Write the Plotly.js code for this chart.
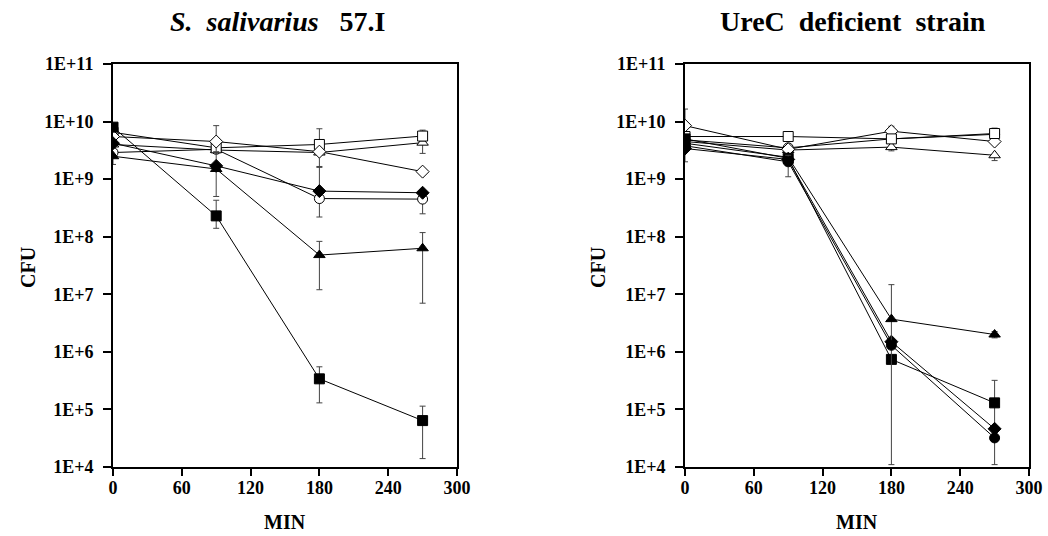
<!DOCTYPE html>
<html><head><meta charset="utf-8">
<script src="https://cdn.plot.ly/plotly-3.0.1.min.js"></script>
<style>html,body{margin:0;padding:0;background:#fff}#chart{width:1048px;height:536px}</style>
</head><body><div id="chart"></div>
<script>
// ---- data ----
const minutes = [0, 90, 180, 270];
const xTickVals = [0, 60, 120, 180, 240, 300];
const yTickVals = [1e4, 1e5, 1e6, 1e7, 1e8, 1e9, 1e10, 1e11];
const yTickText = ['1E+4', '1E+5', '1E+6', '1E+7', '1E+8', '1E+9', '1E+10', '1E+11'];
const titleLeft = '<i>S.  salivarius</i>   57.I';
const titleRight = 'UreC  deficient  strain';

// Left panel: S. salivarius 57.I
const openSquareL     = [6.5e9, 3.5e9, 4.0e9, 5.6e9];
const openSquareLErrP = [0, 0, 3.5e9, 1.5e9];
const openSquareLErrM = [0, 0, 1.0e9, 1.0e9];
const openDiamondL     = [5.5e9, 4.5e9, 3.0e9, 1.35e9];
const openDiamondLErrP = [0, 4.0e9, 0, 0];
const openDiamondLErrM = [0, 1.5e9, 0, 0];
const openTriangleL     = [4.0e9, 3.2e9, 2.9e9, 4.3e9];
const openTriangleLErrP = [0, 0, 0, 0];
const openTriangleLErrM = [0, 1.8e9, 1.3e9, 1.5e9];
const openCircleL     = [2.9e9, 3.3e9, 4.6e8, 4.5e8];
const openCircleLErrP = [0, 0, 1.2e9, 0];
const openCircleLErrM = [1.1e9, 0, 2.4e8, 2.0e8];
const filledSquareL     = [8.0e9, 2.3e8, 3.4e5, 6.4e4];
const filledSquareLErrP = [0, 2.0e8, 2.1e5, 5.0e4];
const filledSquareLErrM = [0, 0.9e8, 2.1e5, 5.0e4];
const filledDiamondL     = [4.2e9, 1.7e9, 6.2e8, 5.8e8];
const filledDiamondLErrP = [0, 0, 0, 0];
const filledDiamondLErrM = [0, 0, 0, 0];
const filledTriangleL     = [2.5e9, 1.5e9, 4.8e7, 6.3e7];
const filledTriangleLErrP = [0, 0, 3.5e7, 5.5e7];
const filledTriangleLErrM = [0, 1.0e9, 3.6e7, 5.6e7];

// Right panel: UreC deficient strain
const openSquareR     = [5.5e9, 5.5e9, 5.0e9, 6.2e9];
const openSquareRErrP = [0, 0, 0, 1.5e9];
const openSquareRErrM = [0, 0, 0, 0];
const openDiamondR     = [8.5e9, 3.3e9, 6.8e9, 4.5e9];
const openDiamondRErrP = [8.0e9, 0, 1.5e9, 0];
const openDiamondRErrM = [6.5e9, 0, 0, 0];
const openTriangleR     = [4.5e9, 3.2e9, 3.6e9, 2.6e9];
const openTriangleRErrP = [0, 0, 0, 0];
const openTriangleRErrM = [0, 0, 0.5e9, 0.5e9];
const openCircleR     = [4.8e9, 3.5e9, 5.0e9, 6.0e9];
const openCircleRErrP = [0, 0, 0, 0];
const openCircleRErrM = [0, 0, 0, 0];
const filledSquareR     = [5.0e9, 2.3e9, 7.4e5, 1.3e5];
const filledSquareRErrP = [0, 0, 0, 1.9e5];
const filledSquareRErrM = [0, 0, 0, 1.19e5];
const filledDiamondR     = [3.4e9, 2.2e9, 1.5e6, 4.6e4];
const filledDiamondRErrP = [0, 0, 0, 0];
const filledDiamondRErrM = [0, 0, 0, 0];
const filledTriangleR     = [4.2e9, 2.4e9, 3.7e6, 2.0e6];
const filledTriangleRErrP = [0, 0, 1.1e7, 2.5e5];
const filledTriangleRErrM = [0, 0, 3.689e6, 2.5e5];
const filledCircleR     = [3.8e9, 2.0e9, 1.3e6, 3.2e4];
const filledCircleRErrP = [0, 0.6e9, 0, 0];
const filledCircleRErrM = [0, 0.9e9, 0, 0];

// ---- helpers ----
function series(y, ep, em, symbol, filled, xa, ya) {
  return {
    x: minutes, y: y, xaxis: xa, yaxis: ya,
    type: 'scatter', mode: 'lines+markers',
    line: {color: '#000', width: 1},
    marker: {symbol: symbol, size: 10,
             color: filled ? '#000' : '#fff',
             line: {color: '#000', width: 1}},
    error_y: {type: 'data', symmetric: false, array: ep, arrayminus: em,
              color: '#444', thickness: 1, width: 3},
    showlegend: false, hoverinfo: 'x+y'
  };
}

const traces = [
  series(openCircleL, openCircleLErrP, openCircleLErrM, 'circle', false, 'x', 'y'),
  series(openTriangleL, openTriangleLErrP, openTriangleLErrM, 'triangle-up', false, 'x', 'y'),
  series(openSquareL, openSquareLErrP, openSquareLErrM, 'square', false, 'x', 'y'),
  series(openDiamondL, openDiamondLErrP, openDiamondLErrM, 'diamond', false, 'x', 'y'),
  series(filledSquareL, filledSquareLErrP, filledSquareLErrM, 'square', true, 'x', 'y'),
  series(filledDiamondL, filledDiamondLErrP, filledDiamondLErrM, 'diamond', true, 'x', 'y'),
  series(filledTriangleL, filledTriangleLErrP, filledTriangleLErrM, 'triangle-up', true, 'x', 'y'),

  series(openCircleR, openCircleRErrP, openCircleRErrM, 'circle', false, 'x2', 'y2'),
  series(openTriangleR, openTriangleRErrP, openTriangleRErrM, 'triangle-up', false, 'x2', 'y2'),
  series(openDiamondR, openDiamondRErrP, openDiamondRErrM, 'diamond', false, 'x2', 'y2'),
  series(openSquareR, openSquareRErrP, openSquareRErrM, 'square', false, 'x2', 'y2'),
  series(filledSquareR, filledSquareRErrP, filledSquareRErrM, 'square', true, 'x2', 'y2'),
  series(filledDiamondR, filledDiamondRErrP, filledDiamondRErrM, 'diamond', true, 'x2', 'y2'),
  series(filledTriangleR, filledTriangleRErrP, filledTriangleRErrM, 'triangle-up', true, 'x2', 'y2'),
  series(filledCircleR, filledCircleRErrP, filledCircleRErrM, 'circle', true, 'x2', 'y2')
];

const W = 1048, H = 536;
const serif = 'Liberation Serif, Times New Roman, serif';
const tickFont = {family: serif, size: 18, color: '#000', weight: 'bold'};
function xAxis(domain, anchor) {
  return {domain: domain, anchor: anchor, range: [0, 300], tickvals: xTickVals,
          ticks: 'outside', ticklen: 7, tickwidth: 2, tickcolor: '#000',
          ticklabelstandoff: -4,
          showline: true, linecolor: '#000', linewidth: 2, mirror: true,
          showgrid: false, zeroline: false, tickfont: tickFont, fixedrange: true};
}
function yAxis(domain, anchor) {
  return {domain: domain, anchor: anchor, type: 'log', range: [4, 11],
          tickvals: yTickVals, ticktext: yTickText,
          ticks: 'outside', ticklen: 8, tickwidth: 2, tickcolor: '#000',
          ticklabelstandoff: 6,
          showline: true, linecolor: '#000', linewidth: 2, mirror: true,
          showgrid: false, zeroline: false, tickfont: tickFont, fixedrange: true};
}
const yDom = [1 - 467 / H, 1 - 64 / H];
const xDomL = [113 / W, 457 / W];
const xDomR = [685 / W, 1029 / W];

const labFont = {family: serif, size: 20, color: '#000', weight: 'bold'};
const titleFont = {family: serif, size: 28, color: '#000', weight: 'bold'};

const layout = {
  width: W, height: H, margin: {l: 0, r: 0, t: 0, b: 0},
  paper_bgcolor: '#fff', plot_bgcolor: '#fff',
  xaxis: xAxis(xDomL, 'y'), yaxis: yAxis(yDom, 'x'),
  xaxis2: xAxis(xDomR, 'y2'), yaxis2: yAxis(yDom, 'x2'),
  annotations: [
    {text: titleLeft, x: 278 / W, y: 1 - 22 / H, xref: 'paper', yref: 'paper', showarrow: false, font: titleFont, xanchor: 'center', yanchor: 'middle'},
    {text: titleRight, x: 853 / W, y: 1 - 22 / H, xref: 'paper', yref: 'paper', showarrow: false, font: titleFont, xanchor: 'center', yanchor: 'middle'},
    {text: 'MIN', x: 285 / W, y: 1 - 522 / H, xref: 'paper', yref: 'paper', showarrow: false, font: labFont, xanchor: 'center', yanchor: 'middle'},
    {text: 'MIN', x: 857 / W, y: 1 - 522 / H, xref: 'paper', yref: 'paper', showarrow: false, font: labFont, xanchor: 'center', yanchor: 'middle'},
    {text: 'CFU', x: 28 / W, y: 1 - 268 / H, xref: 'paper', yref: 'paper', showarrow: false, font: labFont, textangle: -90, xanchor: 'center', yanchor: 'middle'},
    {text: 'CFU', x: 598 / W, y: 1 - 268 / H, xref: 'paper', yref: 'paper', showarrow: false, font: labFont, textangle: -90, xanchor: 'center', yanchor: 'middle'}
  ]
};

Plotly.newPlot('chart', traces, layout, {displayModeBar: false, staticPlot: true});
</script>
</body></html>
